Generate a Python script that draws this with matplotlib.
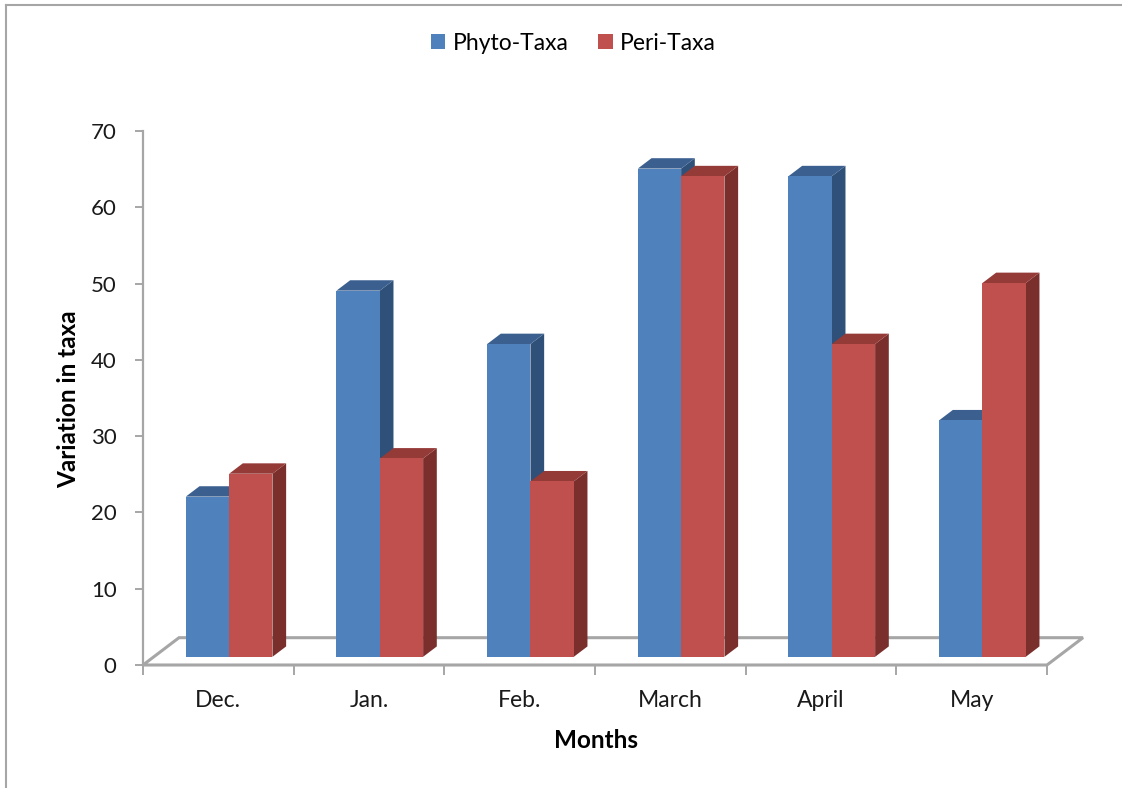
import matplotlib
matplotlib.use('Agg')
import matplotlib.pyplot as plt
from matplotlib.patches import Polygon, Patch
from matplotlib.lines import Line2D

# ---- data ----
months = ['Dec.', 'Jan.', 'Feb.', 'March', 'April', 'May']
phyto = [21, 48, 41, 64, 63, 31]
peri = [24, 26, 23, 63, 41, 49]
series_names = ['Phyto-Taxa', 'Peri-Taxa']
y_ticks = [0, 10, 20, 30, 40, 50, 60, 70]

# ---- style ----
plt.rcParams['font.family'] = ['Lato', 'DejaVu Sans']
front_cols = ['#4F81BD', '#C0504D']
top_cols = ['#3B6090', '#943A37']
side_cols = ['#2F5078', '#7A2F2D']
grey = '#A6A6A6'

W, H = 1122, 788
fig = plt.figure(figsize=(W / 100, H / 100), dpi=100)
ax = fig.add_axes([143 / W, (H - 665) / H, (1083 - 143) / W, (665 - 131) / H])

n = len(months)
x0, x1 = -0.5, n - 0.5
DX, DY = 0.239, 3.58      # full floor depth (oblique offset) in data units
z0, dz = 0.30, 0.38       # bar front depth and bar thickness (fractions of floor depth)
w = 0.2875

ax.set_xlim(x0, x1 + DX)
ax.set_ylim(0, 70)

# floor
floor = Polygon([(x0, 0), (x1, 0), (x1 + DX, DY), (x0 + DX, DY)], closed=True,
                facecolor='white', edgecolor=grey, lw=2.2, zorder=1, clip_on=False)
ax.add_patch(floor)

# bars
k = 0
for i in range(n):
    for s, vals in enumerate([phyto, peri]):
        v = vals[i]
        L = i - w + s * w + z0 * DX
        b = z0 * DY
        h = b + v
        ox, oy = dz * DX, dz * DY
        zo = 3 + k * 0.01
        side = Polygon([(L + w, b), (L + w + ox, b + oy), (L + w + ox, h + oy), (L + w, h)],
                       closed=True, facecolor=side_cols[s], edgecolor='none', zorder=zo)
        top = Polygon([(L, h), (L + w, h), (L + w + ox, h + oy), (L + ox, h + oy)],
                      closed=True, facecolor=top_cols[s], edgecolor='none', zorder=zo)
        ax.add_patch(side)
        ax.add_patch(top)
        ax.bar(L, v, width=w, bottom=b, align='edge', color=front_cols[s],
               edgecolor='none', zorder=zo + 0.005)
        k += 1

# axes styling
for sp in ['top', 'right', 'bottom']:
    ax.spines[sp].set_visible(False)
ax.spines['left'].set_color(grey)
ax.spines['left'].set_linewidth(1.6)
ax.set_yticks(y_ticks)
ax.set_yticklabels([str(t) for t in y_ticks])
ax.tick_params(axis='y', direction='out', length=6, width=1.4, color=grey,
               labelsize=16, pad=13, labelcolor='#1A1A1A')
ax.set_xticks(range(n))
ax.set_xticklabels(months)
ax.set_xticks([x0 + j for j in range(n + 1)], minor=True)
ax.tick_params(axis='x', which='major', length=0, labelsize=16.5, pad=18, labelcolor='#1A1A1A')
ax.tick_params(axis='x', which='minor', direction='out', length=7, width=1.4, color=grey)

# labels
fig.text(69 / W, 1 - 399 / H, 'Variation in taxa', rotation=90, ha='center', va='center',
         fontsize=17.5, fontweight='bold', color='black')
fig.text(596 / W, 1 - 740 / H, 'Months', ha='center', va='center',
         fontsize=17.5, fontweight='bold', color='black')

# legend
handles = [Patch(facecolor=c, edgecolor='none') for c in front_cols]
fig.legend(handles, series_names, loc='center', bbox_to_anchor=(573.5 / W, 1 - 43 / H),
           ncol=2, frameon=False, fontsize=16.5, handlelength=0.62, handleheight=0.62,
           handletextpad=0.32, columnspacing=1.3)

# outer frame (left and top)
fig.add_artist(Line2D([6 / W, 6 / W], [0, 1 - 5 / H], color=grey, lw=1.5))
fig.add_artist(Line2D([6 / W, 1], [1 - 5 / H, 1 - 5 / H], color=grey, lw=1.5))

fig.savefig('out.png', dpi=100)
